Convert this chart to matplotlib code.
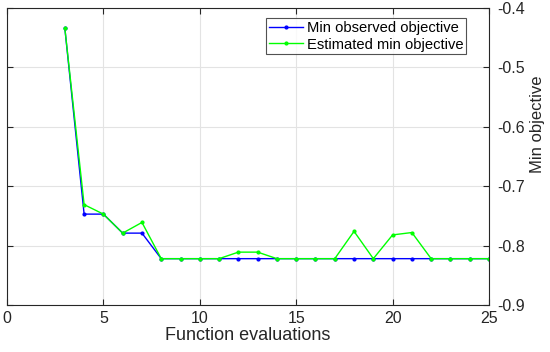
import matplotlib
matplotlib.use("Agg")
import matplotlib.pyplot as plt

plt.rcParams['font.family'] = ['Liberation Sans', 'DejaVu Sans']

evals = list(range(3, 26))
min_observed = [-0.434, -0.747, -0.747, -0.779, -0.779, -0.822, -0.822, -0.822,
                -0.822, -0.822, -0.822, -0.822, -0.822, -0.822, -0.822, -0.822,
                -0.822, -0.822, -0.822, -0.822, -0.822, -0.822, -0.822]
est_min = [-0.434, -0.731, -0.747, -0.779, -0.761, -0.822, -0.822, -0.822,
           -0.822, -0.811, -0.811, -0.822, -0.822, -0.822, -0.822, -0.776,
           -0.822, -0.782, -0.778, -0.822, -0.822, -0.822, -0.822]
xticks = [0, 5, 10, 15, 20, 25]
yticks = [-0.9, -0.8, -0.7, -0.6, -0.5, -0.4]

fig = plt.figure(figsize=(5.5, 3.52), dpi=100)
ax = fig.add_axes([7/550, 1 - 305/352, 482/550, 297/352])

ax.plot(evals, min_observed, color='#0000ff', marker='.', markersize=4, lw=1,
        label='Min observed objective')
ax.plot(evals, est_min, color='#00ff00', marker='.', markersize=4, lw=1,
        label='Estimated min objective')

ax.set_xlim(0, 25)
ax.set_ylim(-0.9, -0.4)
ax.set_xticks(xticks)
ax.set_xticklabels([str(t) for t in xticks])
ax.set_yticks(yticks)
ax.set_yticklabels([f"{t:.1f}" for t in yticks])
ax.grid(True, color='#e3e3e3', lw=0.8)
ax.set_axisbelow(True)

ax.yaxis.tick_right()
ax.yaxis.set_label_position('right')
ax.tick_params(direction='in', length=4, width=0.8, colors='#262626',
               labelsize=11.5, top=True, bottom=True, left=True, right=True,
               labelleft=False, labelright=True)
ax.tick_params(axis='x', pad=4)
ax.tick_params(axis='y', pad=6)
for s in ax.spines.values():
    s.set_color('#262626')
    s.set_linewidth(0.8)

ax.set_xlabel('Function evaluations', fontsize=13, color='#262626', labelpad=1)
ax.set_ylabel('Min objective', fontsize=12, color='#262626')
ax.yaxis.label.set_va('center')
ax.yaxis.set_label_coords(1.1, 0.61)

leg = ax.legend(loc='upper right', bbox_to_anchor=(0.953, 0.965), fontsize=10.6,
                frameon=True, fancybox=False, edgecolor='#262626',
                handlelength=2.3, handletextpad=0.25, borderpad=0.2,
                labelspacing=0.15, borderaxespad=0)
leg.get_frame().set_linewidth(0.8)

fig.savefig('out.png', dpi=100)
